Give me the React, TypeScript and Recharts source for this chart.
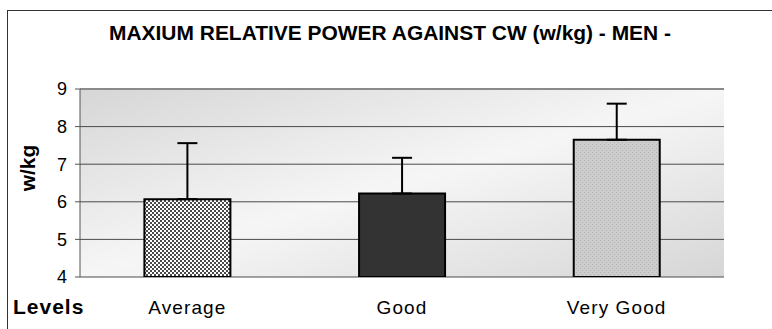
import React from "react";
import { BarChart, Bar, XAxis, YAxis, CartesianGrid, ErrorBar, Cell, ReferenceLine } from "recharts";

const levels = ["Average", "Good", "Very Good"];
const meanPower = [6.07, 6.22, 7.65];
const sdPower = [1.49, 0.95, 0.96];
const yTicks = [4, 5, 6, 7, 8, 9];
const edgeTicks = [0, 1, 2, 3];

const FILLS = ["url(#checker)", "#333333", "url(#lightDots)"];
const FONT = "'Liberation Sans', Arial, sans-serif";

const data = levels.map((name, i) => ({
  name,
  pos: i + 0.5,
  value: meanPower[i],
  err: [0, sdPower[i]],
}));

function LevelTick(props: any) {
  const { x, payload } = props;
  return (
    <text x={x} y={314} textAnchor="middle" fontFamily={FONT} fontSize={19} letterSpacing={1.1} fill="#000">
      {payload.value}
    </text>
  );
}

export default function App() {
  return (
    <div style={{ position: "absolute", left: 0, top: 0, width: 772, height: 329, overflow: "hidden", background: "#fff", fontFamily: FONT }}>
      <div style={{ position: "absolute", left: 7, top: 10, width: 900, height: 500, border: "1px solid #333" }} />
      <svg width={772} height={60} style={{ position: "absolute", left: 0, top: 0 }}>
        <text x={390} y={40} textAnchor="middle" fontFamily={FONT} fontWeight="bold" fontSize={20} textLength={562} lengthAdjust="spacingAndGlyphs" fill="#000">
          MAXIUM RELATIVE POWER AGAINST CW (w/kg) - MEN -
        </text>
      </svg>
      <div style={{ position: "absolute", left: 0, top: 0 }}>
        <BarChart width={772} height={329} data={data} margin={{ top: 89, right: 48, bottom: 0, left: 40 }} barCategoryGap="30%">
          <defs>
            <linearGradient id="bg" x1="0" y1="0" x2="1" y2="1">
              <stop offset="0" stopColor="#d6d6d6" />
              <stop offset="0.5" stopColor="#f6f6f6" />
              <stop offset="1" stopColor="#d6d6d6" />
            </linearGradient>
            <pattern id="checker" width="4" height="4" patternUnits="userSpaceOnUse">
              <rect width="4" height="4" fill="#ffffff" />
              <rect width="2" height="2" fill="#4a4a4a" />
              <rect x="2" y="2" width="2" height="2" fill="#4a4a4a" />
            </pattern>
            <pattern id="lightDots" width="4" height="4" patternUnits="userSpaceOnUse">
              <rect width="4" height="4" fill="#cdcdcd" />
              <rect width="1" height="1" fill="#b4b4b4" />
              <rect x="2" y="2" width="1" height="1" fill="#b4b4b4" />
            </pattern>
          </defs>
          <CartesianGrid vertical={false} stroke="#4a4a4a" fill="url(#bg)" fillOpacity={1} />
          <XAxis xAxisId="edges" type="number" dataKey="pos" domain={[0, 3]} ticks={edgeTicks} height={0} tickSize={7} tickFormatter={() => ""} axisLine={{ stroke: "#000", strokeWidth: 1.5 }} tickLine={{ stroke: "#555" }} />
          <XAxis dataKey="name" height={52} axisLine={false} tickLine={false} tickSize={0} tick={<LevelTick />} />
          <YAxis domain={[4, 9]} ticks={yTicks} width={40} tickSize={5} tickMargin={8} axisLine={{ stroke: "#555" }} tickLine={{ stroke: "#555" }} tick={{ fill: "#000", fontSize: 18, fontFamily: FONT }} allowDataOverflow />
          <YAxis yAxisId="right" orientation="right" domain={[4, 9]} width={0} tick={false} tickLine={false} axisLine={{ stroke: "#8a8a8a", strokeWidth: 2 }} />
          <ReferenceLine y={9} stroke="#8a8a8a" strokeWidth={2} />
          <Bar dataKey="value" stroke="#000" strokeWidth={2} isAnimationActive={false}>
            {data.map((d, i) => (
              <Cell key={d.name} fill={FILLS[i]} />
            ))}
            <ErrorBar dataKey="err" direction="y" width={10} stroke="#000" strokeWidth={2} />
          </Bar>
        </BarChart>
      </div>
      <svg width={772} height={329} style={{ position: "absolute", left: 0, top: 0, pointerEvents: "none" }}>
        <text x={27} y={168} transform="rotate(-90 27 168)" textAnchor="middle" dominantBaseline="central" fontFamily={FONT} fontWeight="bold" fontSize={21} fill="#000">
          w/kg
        </text>
        <text x={13} y={314} fontFamily={FONT} fontWeight="bold" fontSize={21} letterSpacing={1} fill="#000">
          Levels
        </text>
      </svg>
    </div>
  );
}
